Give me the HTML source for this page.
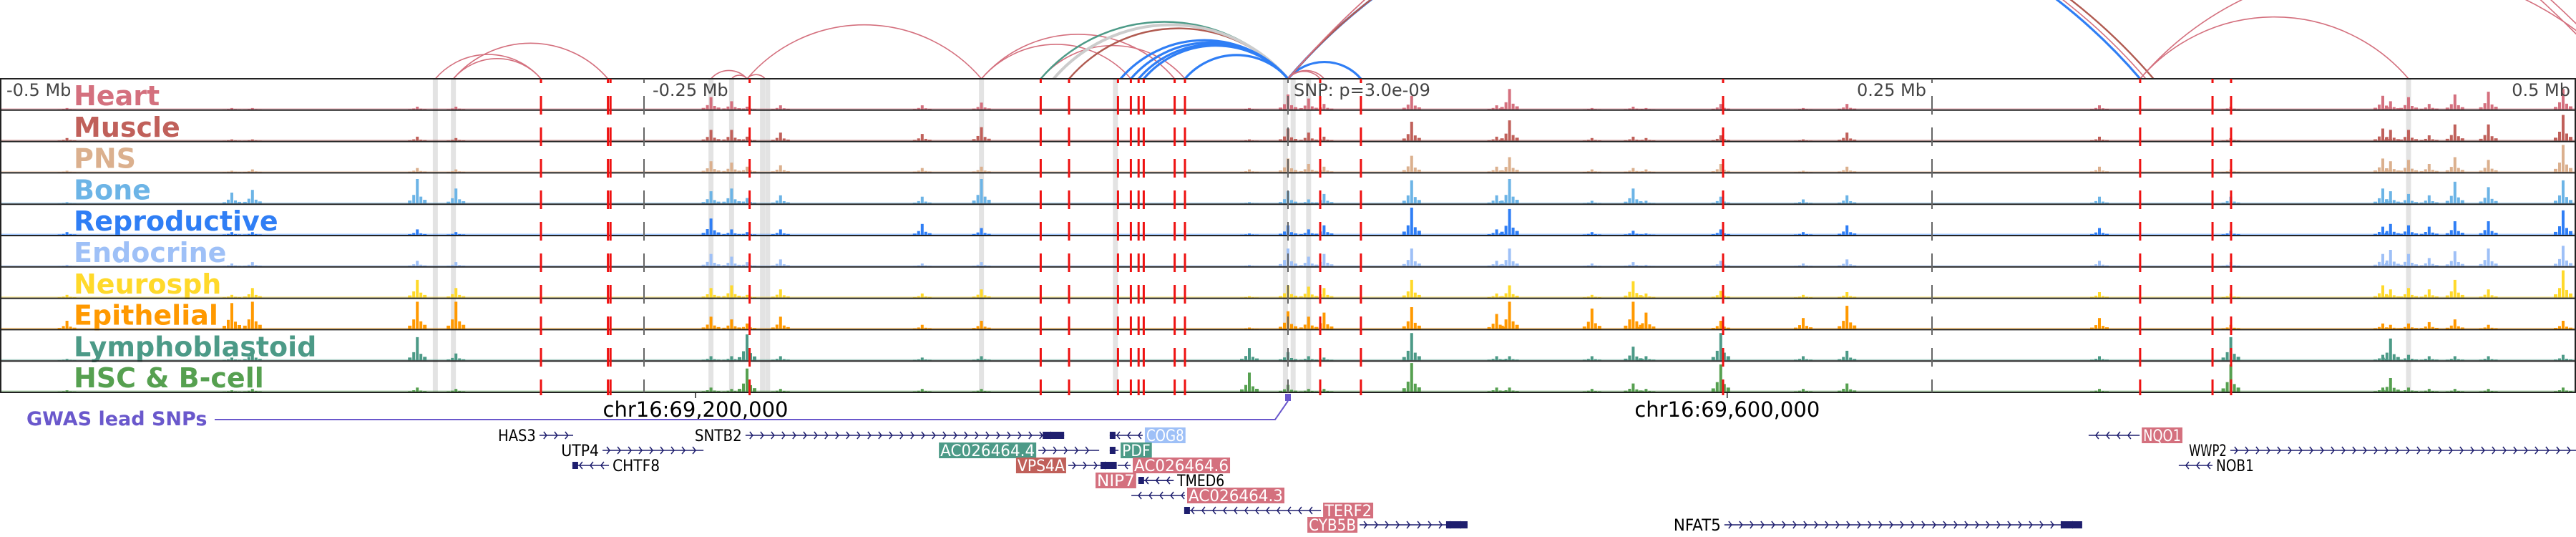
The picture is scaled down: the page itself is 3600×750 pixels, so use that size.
<!DOCTYPE html>
<html><head><meta charset="utf-8"><style>
html,body{margin:0;padding:0;background:#fff;}
svg{display:block;font-family:"DejaVu Sans","Liberation Sans",sans-serif;}
</style></head><body>
<svg id="chart" width="3600" height="750" viewBox="0 0 3600 750" xmlns="http://www.w3.org/2000/svg">
<g id="bands"></g>
<g id="arcs"></g>
<g id="tracks"></g>
<g id="vlines"></g>
<g id="axis"></g>
<g id="genes"></g>
</svg>
<script>
// ---- data ----
const trackNames = ["Heart","Muscle","PNS","Bone","Reproductive","Endocrine","Neurosph","Epithelial","Lymphoblastoid","HSC & B-cell"];
const peakKb = [-474,-410,-402,-338,-323,-224,-216,-210,-197,-142,-119,-15,0,8,14,48,81,86,118,134,139,168,200,217,315,366,425,428,435,443,453,466,495];
const heartVals = [.05,.05,.05,.1,.1,.45,.3,.1,.15,.15,.25,.05,.55,.4,.2,.5,.15,.75,.05,.1,.05,.2,.05,.2,.15,.1,.5,.3,.45,.2,.55,.65,.75];
const muscleVals = [.1,.05,.05,.15,.1,.4,.4,.15,.3,.25,.5,.05,.45,.3,.15,.7,.15,.75,.1,.15,.1,.2,.05,.3,.15,.1,.45,.4,.4,.2,.6,.6,.95];
const pnsVals = [.05,.05,.1,.15,.1,.4,.35,.2,.25,.15,.2,.1,.5,.3,.2,.6,.2,.55,.1,.15,.1,.3,.05,.2,.2,.1,.5,.4,.45,.3,.55,.45,1.0];
const boneVals = [.05,.4,.5,.9,.55,.45,.55,.2,.3,.25,.9,.05,.45,.15,.35,.85,.3,.9,.1,.55,.1,.25,.15,.3,.25,.25,.55,.45,.35,.3,.8,.6,.85];
const reproVals = [.1,.1,.1,.2,.1,.6,.2,.1,.2,.4,.25,.05,.35,.2,.35,1.0,.2,.95,.1,.15,.05,.2,.1,.35,.25,.15,.3,.4,.35,.3,.5,.5,.9];
const endoVals = [.05,.1,.15,.2,.15,.45,.35,.15,.25,.1,.15,.05,.65,.35,.45,.65,.2,.65,.1,.15,.05,.2,.1,.25,.2,.15,.45,.6,.45,.3,.55,.65,.75];
const neuroVals = [.1,.1,.35,.65,.35,.35,.45,.1,.3,.15,.3,.05,.45,.4,.35,.65,.15,.45,.1,.6,.15,.25,.1,.2,.2,.15,.45,.3,.35,.3,.65,.3,1.0];
const epiVals = [.3,.95,1.0,1.0,1.0,.45,.35,.2,.45,.15,.3,.05,.65,.45,.6,.8,.55,1.0,.75,1.0,.6,.3,.4,.85,.4,.15,.2,.15,.2,.25,.35,.15,.3];
const lymphVals = [.05,.1,.35,.85,.25,.15,.15,.95,.15,.1,.15,.45,.3,.15,.1,1.0,.15,.15,.15,.5,.15,1.0,.15,.35,.15,.85,.2,.8,.2,.15,.15,.15,.2];
const hscVals = [.05,.05,.1,.15,.1,.15,.1,.85,.1,.1,.1,.7,.25,.1,.1,1.05,.15,.15,.1,.3,.1,1.0,.1,.3,.1,1.0,.15,.5,.15,.1,.1,.1,.15];
const variantKb = [-290,-264,-263,-209,-96,-85,-66,-61,-58,-56,-44,-40,12.5,28.3,168.9,330.8,358.9,366.1];
const bandKb = [-331,-324,-224,-216,-204,-202,-119,-67,-1,2,8,435];
const axisKb = [-500,-250,0,250,500];
const axisLabels = ["-0.5 Mb","-0.25 Mb","SNP: p=3.0e-09","0.25 Mb","0.5 Mb"];
const arcFrom = [-331,-324,-324,-224,-216,-210,-210,-119,-119,-96,0,0,-96,-85,-91,-65,-61,-58,-56,-40,0,0,0,0,0,0,330.8,330.8,0];
const arcTo   = [-290,-290,-264,-210,-210,-203,-119,-44,-61,-40,12.5,28.3,0,0,0,0,0,0,0,0,28.3,330.8,333,336,516,520,435,520,14];
const arcColor= ["p","p","p","p","p","p","p","p","p","p","p","p","g","r","c","b","b","b","b","b","b","b","p","r","p","p","p","p","p"];
// ---- scales ----
const NS="http://www.w3.org/2000/svg";
const X = kb => 1800 + kb*3.6;
const TOP=110, TH=43.8, NT=10, BOT=TOP+TH*NT;
const colors=["#d4707e","#c0605a","#dbb08e","#6cb4e6","#2f7ef5","#9ec0f7","#ffd92a","#ff9900","#4c9a87","#56a050"];
const allVals=[heartVals,muscleVals,pnsVals,boneVals,reproVals,endoVals,neuroVals,epiVals,lymphVals,hscVals];
function el(tag,attrs,parent){const e=document.createElementNS(NS,tag);for(const k in attrs)e.setAttribute(k,attrs[k]);parent.appendChild(e);return e;}
const gB=document.getElementById('bands'),gA=document.getElementById('arcs'),gT=document.getElementById('tracks'),gV=document.getElementById('vlines'),gX=document.getElementById('axis'),gG=document.getElementById('genes');
// bands
bandKb.forEach(k=>{const r=el('rect',{x:X(k)-3.5,y:TOP,width:7,height:BOT-TOP,fill:'#e3e3e3'},gB);

});
// arcs
const arcCol={p:["#d4707e",1.6],r:["#b05a50",2.4],g:["#4c9a87",2.4],c:["#cccccc",4],b:["#2f7ef5",3.2]};
arcFrom.forEach((a,i)=>{const x1=X(a),x2=X(arcTo[i]);const w=Math.abs(x2-x1);const h=0.23*w;const R=(w*w/4+h*h)/(2*h);
const st=arcCol[arcColor[i]];
const p=el('path',{d:`M${Math.min(x1,x2)},${TOP} A${R},${R} 0 0 1 ${Math.max(x1,x2)},${TOP}`,fill:'none',stroke:st[0],'stroke-width':st[1]},gA);

});
// tracks
for(let t=0;t<NT;t++){
  const y0=TOP+t*TH, yb=y0+TH;
  const g=el('g',{},gT);
  
  
  el('rect',{x:0,y:yb-2.5,width:3600,height:1.5,fill:colors[t],opacity:0.45},g);
  allVals[t].forEach((v,i)=>{const x=X(peakKb[i]);const h=Math.min(v,1.05)*38;
    const b=el('rect',{x:x-2,y:yb-1-h,width:4,height:h,fill:colors[t]},g);
    
    
    el('rect',{x:x-7,y:yb-1-h*0.35,width:4,height:h*0.35,fill:colors[t]},g);
    el('rect',{x:x+3,y:yb-1-h*0.28,width:4,height:h*0.28,fill:colors[t]},g);
    el('rect',{x:x-13,y:yb-1-h*0.12,width:5,height:h*0.12,fill:colors[t]},g);
    el('rect',{x:x+8,y:yb-1-h*0.15,width:5,height:h*0.15,fill:colors[t]},g);
  });
  const lb=el('text',{x:103,y:y0+37,'font-size':38,'font-weight':'bold',fill:colors[t]},g);
  lb.textContent=trackNames[t];
  
  
  el('line',{x1:0,y1:y0,x2:3600,y2:y0,stroke:'#222','stroke-width':2},g);
}
el('line',{x1:0,y1:BOT,x2:3600,y2:BOT,stroke:'#222','stroke-width':2},gT);
el('line',{x1:1,y1:TOP,x2:1,y2:BOT,stroke:'#222','stroke-width':2},gT);
el('line',{x1:3599,y1:TOP,x2:3599,y2:BOT,stroke:'#222','stroke-width':2},gT);
// variant lines
axisKb.forEach((k,i)=>{if(i===0||i===4)return;const l=el('line',{x1:X(k),y1:TOP,x2:X(k),y2:BOT,stroke:'#666','stroke-width':2,'stroke-dasharray':'26 18','stroke-dashoffset':20},gV);

});
variantKb.forEach(k=>{const l=el('line',{x1:X(k),y1:TOP,x2:X(k),y2:BOT+4,stroke:'#ee1111','stroke-width':3,'stroke-dasharray':'26 18','stroke-dashoffset':20},gV);

});
// axis labels
axisKb.forEach((k,i)=>{let x=X(k)+8,anc='start';if(i===4||i===3){x=X(k)-8;anc='end';}if(i===0)x=9;if(i===1)x=X(k)+12;
const t=el('text',{x:x,y:134,'font-size':24,fill:'#444','text-anchor':anc},gX);t.textContent=axisLabels[i];

});
[[-230,"chr16:69,200,000"],[170.5,"chr16:69,600,000"]].forEach(d=>{const x=X(d[0]);el('line',{x1:x,y1:BOT,x2:x,y2:BOT+8,stroke:'#222','stroke-width':1.5},gX);
const t=el('text',{x:x,y:582,'font-size':29,fill:'#000','text-anchor':'middle'},gX);t.textContent=d[1];

});
// GWAS
const gw=el('text',{x:37,y:594,'font-size':27,'font-weight':'bold',fill:'#6a58cc'},gX);gw.textContent="GWAS lead SNPs";


el('polyline',{points:`300,586 ${X(-5)},586 ${X(0)},560`,fill:'none',stroke:'#6a58cc','stroke-width':2},gX);
const sn=el('rect',{x:X(0)-4,y:550,width:8,height:10,fill:'#6a58cc'},gX);


// genes: [start,end,row,dir,label,labelSide,boxColor,exonSide]
const genes=[
 [-290.6,-277.5,0,1,"HAS3","L",null,null],
 [-210.6,-86.9,0,1,"SNTB2","L",null,"R"],
 [-69.2,-56.4,0,-1,"COG8","R","#9ec0f7","L"],
 [310.8,330.6,0,-1,"NQO1","R","#d4707e",null],
 [-266.1,-226.9,1,1,"UTP4","L",null,null],
 [-96.9,-73.3,1,1,"AC026464.4","L","#4c9a87",null],
 [-69.2,-65.8,1,-1,"PDF","R","#4c9a87","L"],
 [365.8,500,1,1,"WWP2","L",null,null],
 [-277.8,-263.6,2,-1,"CHTF8","R",null,"L"],
 [-85.3,-66.5,2,1,"VPS4A","L","#c0605a","R"],
 [-66.1,-61.1,2,-1,"AC026464.6","R","#d4707e",null],
 [345.8,358.9,2,-1,"NOB1","R",null,null],
 [-58.1,-44.4,3,-1,"NIP7","L","#d4707e","L"],
 [-58.1,-44.4,3,-1,"TMED6","R",null,null],
 [-60.8,-40,4,-1,"AC026464.3","R","#d4707e",null],
 [-40.3,12.8,5,-1,"TERF2","R","#d4707e","L"],
 [27.8,69.7,6,1,"CYB5B","L","#d4707e","R"],
 [169.4,308.3,6,1,"NFAT5","L",null,"R"]];
const rowY=[608,629,650,671,692,713,733];
const NAVY="#1e1e6e";
genes.forEach(gd=>{const [s,e,row,dir,lab,side,box,ex]=gd;const x1=X(s),x2=X(e),y=rowY[row];
 const g=el('g',{},gG);
 
 
 el('line',{x1:x1,y1:y,x2:x2,y2:y,stroke:NAVY,'stroke-width':1.5},g);
 for(let x=x1+10;x<x2-3;x+=15){const pts=dir>0?`${x-4},${y-5} ${x},${y} ${x-4},${y+5}`:`${x+4},${y-5} ${x},${y} ${x+4},${y+5}`;el('polyline',{points:pts,fill:'none',stroke:NAVY,'stroke-width':1.5},g);}
 if(ex==="R")el('rect',{x:x2-Math.min(30,(x2-x1)/3),y:y-5,width:Math.min(30,(x2-x1)/3),height:10,fill:NAVY},g);
 if(ex==="L")el('rect',{x:x1,y:y-5,width:8,height:10,fill:NAVY},g);
 const tw=lab.length*13.2+4;
 const tx=side==="L"?x1-3-tw:x2+3;
 if(box)el('rect',{x:tx,y:y-11,width:tw,height:22,fill:box},g);
 const t=el('text',{x:tx+2,y:y+8,'font-size':22,fill:box?'#fff':'#000',textLength:tw-4,lengthAdjust:'spacingAndGlyphs'},g);t.textContent=lab;
});
</script>
</body></html>
